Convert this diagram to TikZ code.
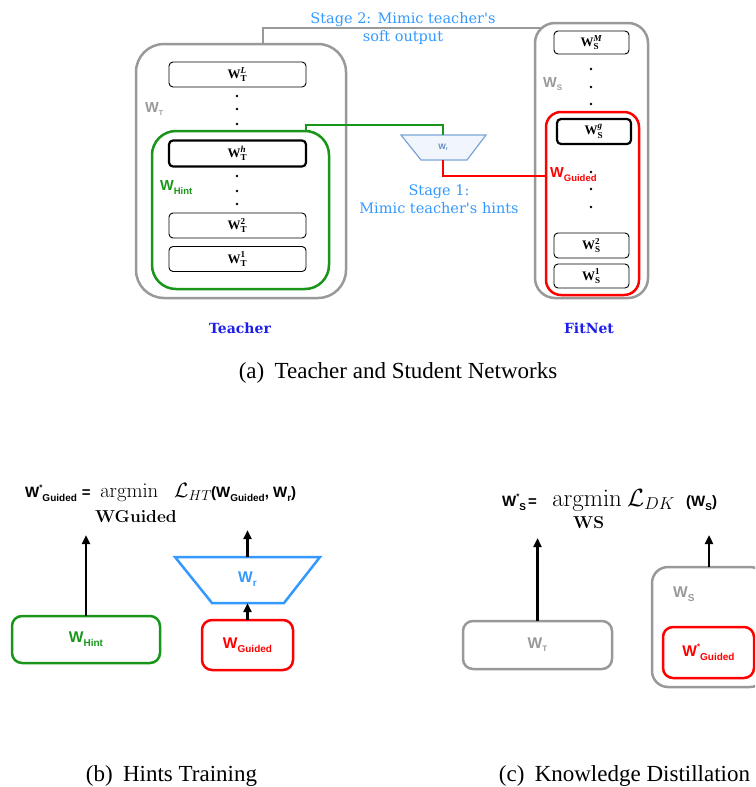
\documentclass[tikz,border=0pt]{standalone}
\usepackage{amsmath}
\usepackage[no-math]{fontspec}
\setmainfont{Liberation Serif}
\setsansfont{Liberation Sans}
\newfontfamily\dvserif{DejaVu Serif}
\usetikzlibrary{arrows.meta,calc}

\definecolor{boxgray}{RGB}{153,153,153}
\definecolor{hintgreen}{RGB}{25,150,25}
\definecolor{guidedred}{RGB}{255,0,0}
\definecolor{stageblue}{RGB}{51,153,255}
\definecolor{netblue}{RGB}{30,30,235}
\definecolor{wrline}{RGB}{125,165,215}
\definecolor{wrfill}{RGB}{240,246,252}
\definecolor{wrtext}{RGB}{100,140,195}

% layer label: bold W with sub- and superscript
\newcommand{\lyr}[2]{$\textbf{W}_{\textbf{#1}}^{#2}$}
% sans bold W with lowered subscript: size, subscript, subscript size, drop
\newcommand{\sfsub}[4]{{\sffamily\bfseries\fontsize{#1}{#1}\selectfont W\raisebox{-#4pt}{\fontsize{#3}{#3}\selectfont #2}}}
\newcommand{\sfsubstar}[4]{{\sffamily\bfseries\fontsize{#1}{#1}\selectfont W\raisebox{0.42em}{\fontsize{8}{8}\selectfont *}\raisebox{-#4pt}{\fontsize{#3}{#3}\selectfont #2}}}

\begin{document}
\begin{tikzpicture}[x=1pt,y=-1pt,
  netbox/.style={draw=boxgray, line width=2.5pt, inner sep=0, outer sep=0},
  hintbox/.style={draw=hintgreen, line width=2.5pt, inner sep=0, outer sep=0},
  guidebox/.style={draw=guidedred, line width=2.5pt, inner sep=0, outer sep=0},
  layer/.style={draw=black, line width=0.9pt, rounded corners=4pt, inner sep=0, outer sep=0,
    font=\fontsize{13}{15}\selectfont},
  keylayer/.style={layer, line width=2.2pt},
  ldot/.style={circle, fill=black, inner sep=0, minimum size=2.6pt},
  up/.style={-{Triangle[length=9pt,width=8pt]}, line width=2.4pt},
  stage/.style={font=\dvserif\fontsize{14.5}{18}\selectfont, text=stageblue, align=center},
  netname/.style={font=\dvserif\bfseries\fontsize{14}{16}\selectfont, text=netblue},
  subcap/.style={font=\fontsize{23}{26}\selectfont, anchor=base},
  flat/.style={anchor=base west, inner sep=0}
]
\useasboundingbox (0,0) rectangle (755,787);
\clip (0,0) rectangle (755,787);

% ---------------- (a) teacher network ----------------
\node[netbox, rounded corners=28pt, minimum width=210, minimum height=254] (teacher) at (241,171) {};
\node[hintbox, rounded corners=24pt, minimum width=177, minimum height=158] (hintbox) at (240.5,210) {};
\node[layer, minimum width=137, minimum height=25] (tL) at (237.5,74.5) {\lyr{T}{\textbf{\textit{L}}}};
\node[keylayer, minimum width=137, minimum height=26] (th) at (237.5,153.5) {\lyr{T}{\textbf{\textit{h}}}};
\node[layer, minimum width=137, minimum height=25] (t2) at (237.5,225.5) {\lyr{T}{\textbf{2}}};
\node[layer, minimum width=137, minimum height=25] (t1) at (237.5,259) {\lyr{T}{\textbf{1}}};
\foreach \y [count=\i] in {96,109,124,176,191,204}
  \node[ldot] (td\i) at (237,\y) {};
\node[flat, text=boxgray] (wtlab) at (145,112) {\sfsub{14.5}{T}{7}{3}};
\node[flat, text=hintgreen] (whintlab) at (160,190) {\sfsub{14.5}{Hint}{9.5}{4}};

% ---------------- (a) student network ----------------
\node[netbox, rounded corners=20pt, minimum width=113, minimum height=275] (student) at (591.5,160.5) {};
\node[guidebox, rounded corners=15pt, minimum width=93, minimum height=183] (redbox) at (592.5,203.5) {};
\node[layer, minimum width=75, minimum height=23] (sM) at (591.5,42.5) {\lyr{S}{\textbf{\textit{M}}}};
\node[keylayer, minimum width=74, minimum height=25] (sg) at (594,131.5) {\lyr{S}{\textbf{\textit{g}}}};
\node[layer, minimum width=75, minimum height=25] (s2) at (591.5,245.5) {\lyr{S}{\textbf{2}}};
\node[layer, minimum width=75, minimum height=24] (s1) at (591.5,276) {\lyr{S}{\textbf{1}}};
\foreach \y [count=\i] in {69,87,104,172,189,207}
  \node[ldot] (sd\i) at (591,\y) {};
\node[flat, text=boxgray] (wslab) at (543,87) {\sfsub{14.5}{S}{8}{3}};
\node[flat, text=guidedred] (wglab) at (550,177) {\sfsub{14.5}{Guided}{9.5}{4}};

% small regressor
\draw[wrline, fill=wrfill, line width=1.2pt] (401,135) -- (486,135) -- (467,160) -- (421,160) -- cycle;
\coordinate (trtop) at (443,135);
\coordinate (trbot) at (443,160);
\node[text=wrtext, inner sep=0] (wrsmall) at (443,147) {\sfsub{8}{r}{5}{1.5}};

% stage connectors
\coordinate (s2start) at ($(teacher.north)+(22,0)$);
\coordinate (s2end) at ($(student.north west)+(6,5)$);
\draw[boxgray, line width=2.5pt] (s2start) |- (s2end);
\coordinate (gstart) at ($(hintbox.north east)+(-23,0)$);
\draw[hintgreen, line width=2pt] (gstart) -- ++(0,-6) -| (trtop);
\coordinate (redin) at ($(redbox.west)+(0,-27.5)$);
\draw[guidedred, line width=2pt] (trbot) |- (redin);

\node[stage] (stage2) at (403,28) {Stage 2: Mimic teacher's\\soft output};
\node[stage] (stage1) at (439,199.5) {Stage 1:\\Mimic teacher's hints};

\node[netname, anchor=base] (tname) at (240,333) {Teacher};
\node[netname, anchor=base] (sname) at (589,333) {FitNet};
\node[subcap] (capa) at (398,378) {(a)\hspace{0.45em}Teacher and Student Networks};

% ---------------- (b) hints training ----------------
\node[flat] (lhsb) at (25,497) {\sfsubstar{15}{Guided}{10}{4}\hspace{5pt}{\sffamily\bfseries\fontsize{15}{15}\selectfont =}};
\node[flat] (argb) at (100,497) {\fontsize{20.5}{24}\selectfont$\mathrm{argmin}$};
\node[flat] (limb) at (95,522) {\fontsize{16}{18}\selectfont$\mathbf{WGuided}$};
\node[flat] (lossb) at (174,497) {\fontsize{20.5}{24}\selectfont$\mathcal{L}_{HT}$};
\node[flat] (argsb) at (211,497) {{\sffamily\bfseries\fontsize{15}{15}\selectfont (}\sfsub{15}{Guided}{10}{4}{\sffamily\bfseries\fontsize{15}{15}\selectfont, }\sfsub{15}{r}{10}{4}{\sffamily\bfseries\fontsize{15}{15}\selectfont )}};

\node[hintbox, rounded corners=10pt, minimum width=148, minimum height=47, text=hintgreen] (hintb) at (86,639.5) {\sfsub{15.5}{Hint}{10}{4}};
\node[guidebox, rounded corners=10pt, minimum width=91, minimum height=50, text=guidedred] (guidedb) at (247.5,645) {\sfsub{15.5}{Guided}{10}{4}};
\draw[stageblue, line width=2.5pt, line join=miter] (175,557) -- (320,557) -- (284,603) -- (212,603) -- cycle;
\coordinate (bigtop) at (247.5,557);
\coordinate (bigbot) at (247.5,603);
\node[text=stageblue, inner sep=0] (wrbig) at (247.5,579) {\sfsub{15.5}{r}{10}{4}};

\coordinate (outb1) at (86,535);
\coordinate (outb2) at (247.5,530);
\draw[up] (hintb.north) -- (outb1);
\draw[up] (guidedb.north) -- (bigbot);
\draw[up] (bigtop) -- (outb2);

\node[subcap] (capb) at (171.5,781) {(b)\hspace{0.45em}Hints Training};

% ---------------- (c) knowledge distillation ----------------
\node[flat] (lhsc) at (502,506) {\sfsubstar{15}{S}{10}{4}\hspace{2pt}{\sffamily\bfseries\fontsize{15}{15}\selectfont =}};
\node[flat] (argc) at (552,506) {\fontsize{24}{28}\selectfont$\mathrm{argmin}$};
\node[flat] (limc) at (573,528) {\fontsize{17.5}{20}\selectfont$\mathbf{WS}$};
\node[flat] (lossc) at (627,506) {\fontsize{24}{28}\selectfont$\mathcal{L}_{DK}$};
\node[flat] (argsc) at (686,506) {{\sffamily\bfseries\fontsize{15}{15}\selectfont (}\sfsub{15}{S}{10}{4}{\sffamily\bfseries\fontsize{15}{15}\selectfont )}};

\node[netbox, rounded corners=10pt, minimum width=149, minimum height=48, text=boxgray] (wtc) at (537.5,645) {\sfsub{15.5}{T}{8}{3}};
\node[netbox, rounded corners=16pt, minimum width=114, minimum height=120] (wsc) at (709,627) {};
\node[flat, text=boxgray] (wsclab) at (673,597) {\sfsub{15.5}{S}{10}{4}};
\node[guidebox, rounded corners=10pt, minimum width=91, minimum height=51, text=guidedred] (wgc) at (708.5,652.5) {\sfsubstar{15.5}{Guided}{10}{4}};

\coordinate (outc1) at (537.5,538);
\coordinate (outc2) at (709,535);
\draw[up] (wtc.north) -- (outc1);
\draw[up] (wsc.north) -- (outc2);

\node[subcap] (capc) at (624.5,781) {(c)\hspace{0.45em}Knowledge Distillation};
\end{tikzpicture}
\end{document}
